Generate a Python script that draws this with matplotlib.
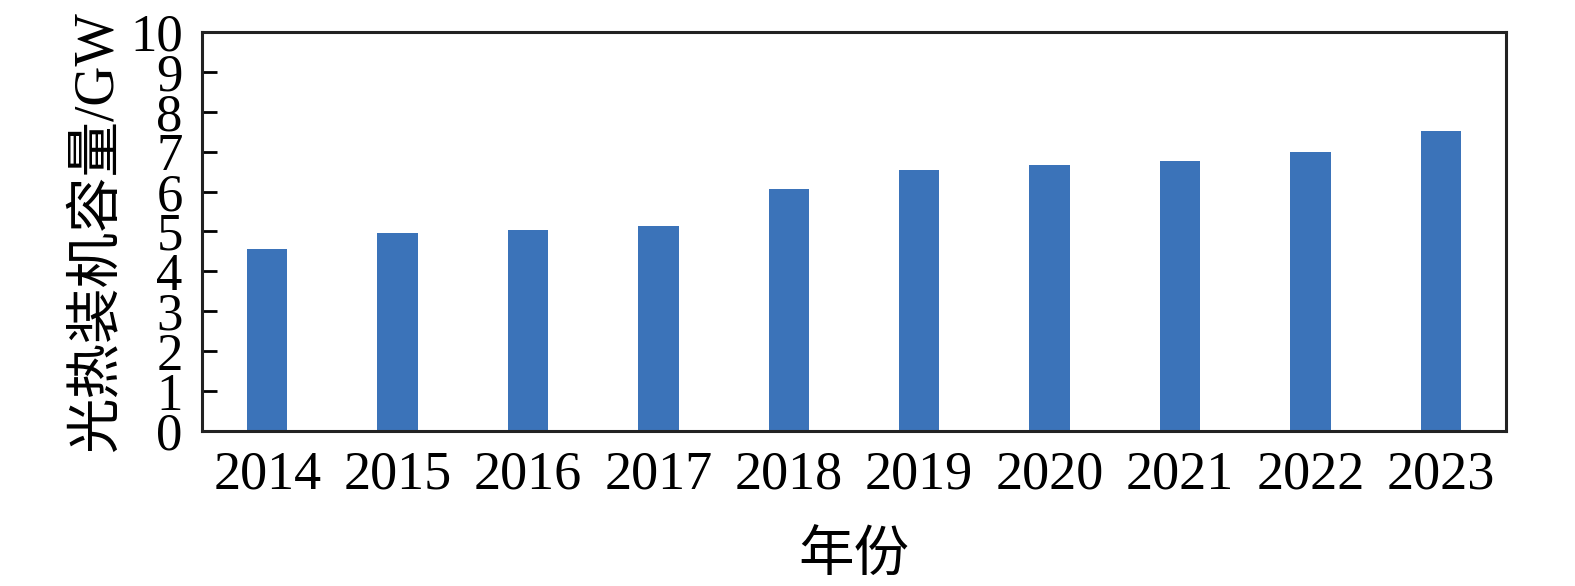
import matplotlib
matplotlib.use("Agg")
import matplotlib.pyplot as plt

# 光热装机容量 (GW)
years = ["2014", "2015", "2016", "2017", "2018", "2019", "2020", "2021", "2022", "2023"]
capacity = [4.55, 4.96, 5.05, 5.15, 6.07, 6.55, 6.67, 6.77, 7.0, 7.52]

plt.rcParams['font.family'] = ['Liberation Serif', 'Noto Sans CJK SC']

fig = plt.figure(figsize=(15.75, 5.86), dpi=100)
ax = fig.add_axes([0.1283, 0.2645, 0.8279, 0.6809])

x = range(len(years))
ax.bar(x, capacity, width=0.31, color='#3B73B9')

ax.set_xlim(-0.5, len(years) - 0.5)
ax.set_ylim(0, 10)
ax.set_yticks(range(0, 11))
ax.set_xticks(list(x))
ax.set_xticklabels(years)

ax.tick_params(axis='y', direction='in', length=11, width=2, labelsize=38, pad=14)
ax.tick_params(axis='x', length=0, labelsize=39, pad=14)
for s in ax.spines.values():
    s.set_linewidth(2.2)
    s.set_color('#222222')

ax.set_ylabel('光热装机容量/GW', fontsize=40, labelpad=4)
ax.set_xlabel('年份', fontsize=40, labelpad=22)

fig.savefig('out.png', dpi=100)
